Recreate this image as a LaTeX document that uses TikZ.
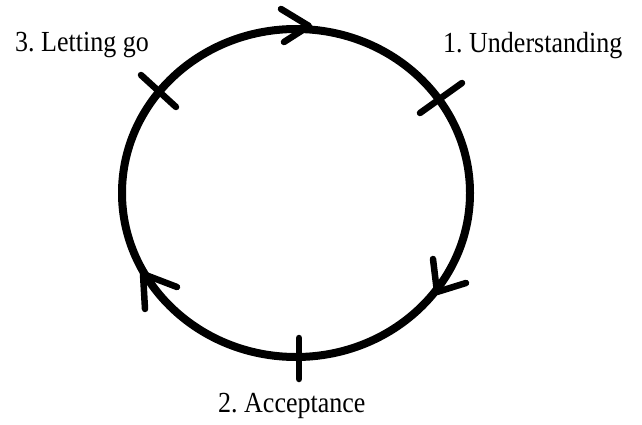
\documentclass[tikz,border=0pt]{standalone}
\usepackage{fontspec}
\setmainfont{Liberation Serif}
\frenchspacing
\begin{document}
\begin{tikzpicture}[x=1pt,y=-1pt,
  ring/.style={line width=8pt},
  tick/.style={line width=6.5pt,line cap=round},
  chev/.style={line width=6.5pt,line cap=round,line join=round},
  lbl/.style={anchor=base west,inner sep=0pt,font=\fontsize{26}{30}\selectfont}]
\useasboundingbox (0,0) rectangle (642,425);
\coordinate (c) at (296,193);
\draw[ring] (c) ellipse [x radius=174pt, y radius=164pt];
% ticks
\coordinate (t1a) at (420,113); \coordinate (t1b) at (462,83);
\coordinate (t2a) at (299,338); \coordinate (t2b) at (299,379);
\coordinate (t3a) at (141,75);  \coordinate (t3b) at (176,107);
\draw[tick] (t1a) -- (t1b);
\draw[tick] (t2a) -- (t2b);
\draw[tick] (t3a) -- (t3b);
% arrow chevrons
\coordinate (a1) at (309,26); \coordinate (a1l) at (281,9);  \coordinate (a1r) at (284,42);
\coordinate (a2) at (437,292); \coordinate (a2l) at (433,259); \coordinate (a2r) at (466,283);
\coordinate (a3) at (143,274); \coordinate (a3l) at (145,309); \coordinate (a3r) at (177,287);
\draw[chev] (a1l) -- (a1) -- (a1r);
\draw[chev] (a2l) -- (a2) -- (a2r);
\draw[chev] (a3l) -- (a3) -- (a3r);
% labels
\node[lbl] (l1) at (443,53) {\scalebox{1}[1.12]{1. Understanding}};
\node[lbl] (l2) at (218,412) {\scalebox{1}[1.12]{2. Acceptance}};
\node[lbl] (l3) at (15,52) {\scalebox{1}[1.12]{3. Letting go}};
\end{tikzpicture}
\end{document}
